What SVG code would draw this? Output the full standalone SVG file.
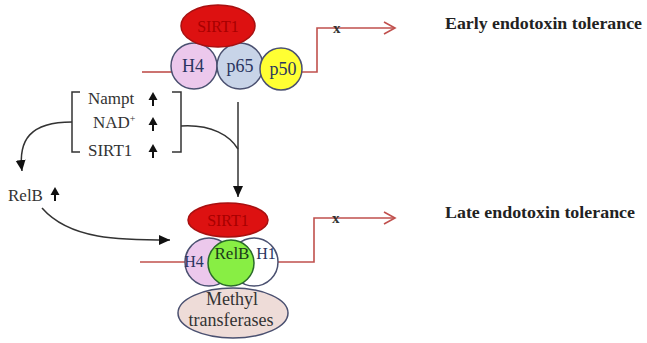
<svg xmlns="http://www.w3.org/2000/svg" width="647" height="343" viewBox="0 0 647 343">
<style>
text{font-family:"Liberation Serif","Times New Roman","DejaVu Serif",serif}
.t{font-size:17px;fill:#333}
.lbl{font-size:16px;font-weight:bold;fill:#222}
.in{font-size:18px;fill:#2a3560;text-anchor:middle}
.sirt{fill:#dd1111;stroke:#a81010;stroke-width:1.5}
.st{font-size:16px;fill:#a80000;text-anchor:middle}
.ring{stroke:#4a5070;stroke-width:1.5}
.red{fill:none;stroke:#c0504d;stroke-width:1.6}
.blk{fill:none;stroke:#333;stroke-width:1.5}
</style>
<defs>
<marker id="open" markerWidth="14" markerHeight="14" refX="12" refY="7" orient="auto" markerUnits="userSpaceOnUse">
<path d="M1,1 L12,7 L1,13" fill="none" stroke="#c0504d" stroke-width="1.6"/>
</marker>
<marker id="fill" markerWidth="12" markerHeight="12" refX="11" refY="6" orient="auto" markerUnits="userSpaceOnUse">
<path d="M0,1 L11,6 L0,11 Z" fill="#111"/>
</marker>
<path id="up" d="M0,-7 L-4.5,1 L-1,1 L-1,7 L1,7 L1,1 L4.5,1 Z" fill="#111"/>
</defs>

<g id="connectors">
<path class="red" d="M142,72 H172"/>
<path class="red" d="M302,72 H317 V28 H395" marker-end="url(#open)"/>
<path class="red" d="M140,262 H186"/>
<path class="red" d="M278,262 H314 V218 H395" marker-end="url(#open)"/>
<text x="333" y="33" class="t" style="font-weight:bold;font-size:15px">x</text>
<text x="332" y="223" class="t" style="font-weight:bold;font-size:15px">x</text>
<path class="blk" d="M238,102 V197" marker-end="url(#fill)"/>
<path class="blk" d="M181,126 C212,124 230,136 238,149"/>
<path class="blk" d="M72,122 C30,122 18,140 22,171" marker-end="url(#fill)"/>
<path class="blk" d="M42,208 C70,240 120,240 170,240" marker-end="url(#fill)"/>
</g>

<g id="bracket">
<path class="blk" d="M80,92 H72 V152 H80"/>
<path class="blk" d="M172,92 H181 V152 H172"/>
<text x="88" y="104" class="t">Nampt</text>
<text x="93" y="128" class="t">NAD<tspan dy="-6" font-size="10">+</tspan></text>
<text x="88" y="156" class="t">SIRT1</text>
<use href="#up" x="153" y="99"/>
<use href="#up" x="153" y="124"/>
<use href="#up" x="153" y="151"/>
</g>

<g id="relb-label">
<text x="8" y="201" class="t">RelB</text>
<use href="#up" x="55" y="194"/>
</g>

<g id="early-complex">
<circle cx="194" cy="66" r="23" fill="#ecc8ec" class="ring"/>
<circle cx="240" cy="66" r="23" fill="#c8d4e8" class="ring"/>
<circle cx="281" cy="69" r="21" fill="#ffff33" class="ring"/>
<text x="193" y="72" class="in">H4</text>
<text x="240" y="72" class="in">p65</text>
<text x="283" y="75" class="in">p50</text>
<ellipse cx="218" cy="26" rx="37" ry="21" class="sirt"/>
<text x="218" y="32" class="st">SIRT1</text>
</g>

<g id="late-complex">
<ellipse cx="233" cy="313" rx="55" ry="25" fill="#eedcd8" stroke="#4a5070" stroke-width="1.5"/>
<text x="232" y="305" class="in" style="fill:#333">Methyl</text>
<text x="231" y="326" class="in" style="fill:#333">transferases</text>
<circle cx="209" cy="262" r="24" fill="#ecc8ec" class="ring"/>
<circle cx="254" cy="262" r="24" fill="#ffffff" class="ring"/>
<circle cx="231" cy="263" r="23" fill="#88ee44" stroke="#2a6a2a" stroke-width="1.5"/>
<text x="194" y="267" class="in" style="font-size:16px">H4</text>
<text x="266" y="259" class="in" style="font-size:16px">H1</text>
<text x="232" y="259" class="in" style="fill:#1a3a1a;font-size:17px">RelB</text>
<ellipse cx="228" cy="220" rx="40" ry="17" class="sirt"/>
<text x="228" y="226" class="st">SIRT1</text>
</g>

<g id="labels">
<text x="445" y="29" class="lbl" textLength="197" lengthAdjust="spacingAndGlyphs">Early endotoxin tolerance</text>
<text x="445" y="218" class="lbl" textLength="190" lengthAdjust="spacingAndGlyphs">Late endotoxin tolerance</text>
</g>
</svg>
